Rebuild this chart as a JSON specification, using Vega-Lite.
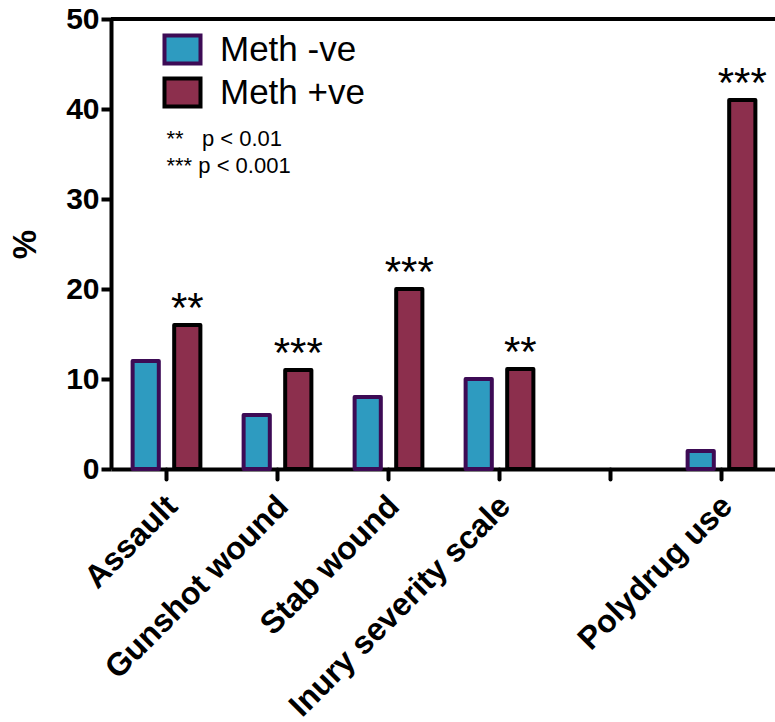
{
  "$schema": "https://vega.github.io/schema/vega-lite/v6.json",
  "autosize": {"type": "none"},
  "padding": {"left": 111, "top": 19, "right": 0, "bottom": 253},
  "width": 666,
  "height": 450,
  "background": "white",
  "config": {
    "view": {"stroke": null},
    "font": "Liberation Sans"
  },
  "data": {
    "values": [
      {"category": "Assault", "group": "Meth -ve", "value": 12, "sig": null},
      {"category": "Assault", "group": "Meth +ve", "value": 16, "sig": "**"},
      {"category": "Gunshot wound", "group": "Meth -ve", "value": 6, "sig": null},
      {"category": "Gunshot wound", "group": "Meth +ve", "value": 11, "sig": "***"},
      {"category": "Stab wound", "group": "Meth -ve", "value": 8, "sig": null},
      {"category": "Stab wound", "group": "Meth +ve", "value": 20, "sig": "***"},
      {"category": "Inury severity scale", "group": "Meth -ve", "value": 10, "sig": null},
      {"category": "Inury severity scale", "group": "Meth +ve", "value": 11.1, "sig": "**"},
      {"category": "Polydrug use", "group": "Meth -ve", "value": 2, "sig": null},
      {"category": "Polydrug use", "group": "Meth +ve", "value": 41, "sig": "***"}
    ]
  },
  "layer": [
    {
      "mark": {"type": "bar", "strokeWidth": 4, "strokeJoin": "round"},
      "encoding": {
        "x": {
          "field": "category",
          "type": "nominal",
          "sort": null,
          "scale": {
            "domain": ["Assault", "Gunshot wound", "Stab wound", "Inury severity scale", " ", "Polydrug use"],
            "paddingInner": 0,
            "paddingOuter": 0
          },
          "axis": {
            "title": null,
            "labelAngle": -45,
            "labelAlign": "right",
            "labelBaseline": "top",
            "labelFont": "Liberation Sans",
            "labelFontWeight": "bold",
            "labelFontSize": 32,
            "labelColor": "black",
            "labelLimit": 0,
            "labelPadding": 11,
            "labelOffset": -5,
            "tickSize": 10,
            "tickWidth": 4,
            "tickColor": "black",
            "domainColor": "black",
            "domainWidth": 4,
            "tickCap": "round"
          }
        },
        "xOffset": {
          "field": "group",
          "type": "nominal",
          "scale": {"domain": ["Meth -ve", "Meth +ve"], "paddingInner": 0.37, "paddingOuter": 0.52}
        },
        "y": {
          "field": "value",
          "type": "quantitative",
          "scale": {"domain": [0, 50], "nice": false},
          "axis": {
            "title": "%",
            "titleFont": "Liberation Sans",
            "titleFontSize": 33,
            "titleFontWeight": "bold",
            "titleColor": "black",
            "titlePadding": 23,
            "values": [0, 10, 20, 30, 40, 50],
            "grid": false,
            "labelFont": "Liberation Sans",
            "labelFontWeight": "bold",
            "labelFontSize": 30,
            "labelColor": "black",
            "labelPadding": 2,
            "tickSize": 10,
            "tickWidth": 4,
            "tickColor": "black",
            "domainColor": "black",
            "domainWidth": 4
          }
        },
        "fill": {
          "field": "group",
          "type": "nominal",
          "scale": {"domain": ["Meth -ve", "Meth +ve"], "range": ["#2e9bc0", "#8c2f4d"]},
          "legend": {
            "title": null,
            "orient": "none",
            "legendX": 54,
            "legendY": 13,
            "symbolType": "M-1.286,-1L1.286,-1L1.286,1L-1.286,1Z",
            "symbolSize": 784,
            "symbolStrokeWidth": 4,
            "labelFont": "Liberation Sans",
            "labelFontSize": 35,
            "labelColor": "black",
            "labelOffset": 20,
            "rowPadding": -2
          }
        },
        "stroke": {
          "field": "group",
          "type": "nominal",
          "scale": {"domain": ["Meth -ve", "Meth +ve"], "range": ["#3d0b55", "#000000"]},
          "legend": {
            "title": null,
            "orient": "none",
            "legendX": 54,
            "legendY": 13,
            "symbolType": "M-1.286,-1L1.286,-1L1.286,1L-1.286,1Z",
            "symbolSize": 784,
            "symbolStrokeWidth": 4,
            "labelFont": "Liberation Sans",
            "labelFontSize": 35,
            "labelColor": "black",
            "labelOffset": 20,
            "rowPadding": -2
          }
        }
      }
    },
    {
      "transform": [{"filter": "datum.sig != null"}],
      "mark": {"type": "text", "font": "Liberation Sans", "fontSize": 42, "baseline": "alphabetic", "dy": -3, "color": "black"},
      "encoding": {
        "x": {"field": "category", "type": "nominal"},
        "xOffset": {"field": "group", "type": "nominal"},
        "y": {"field": "value", "type": "quantitative"},
        "text": {"field": "sig"}
      }
    },
    {
      "data": {
        "values": [
          {"category": "Assault", "note": "**\u00a0\u00a0\u00a0p < 0.01", "at": 36.7},
          {"category": "Assault", "note": "*** p < 0.001", "at": 33.7}
        ]
      },
      "mark": {"type": "text", "font": "Liberation Sans", "fontSize": 22, "align": "left", "baseline": "middle", "color": "black"},
      "encoding": {
        "x": {"field": "category", "type": "nominal"},
        "y": {"field": "at", "type": "quantitative"},
        "text": {"field": "note"}
      }
    },
    {
      "mark": {"type": "rule", "strokeWidth": 4, "color": "black"},
      "encoding": {"y": {"datum": 50}}
    }
  ]
}
